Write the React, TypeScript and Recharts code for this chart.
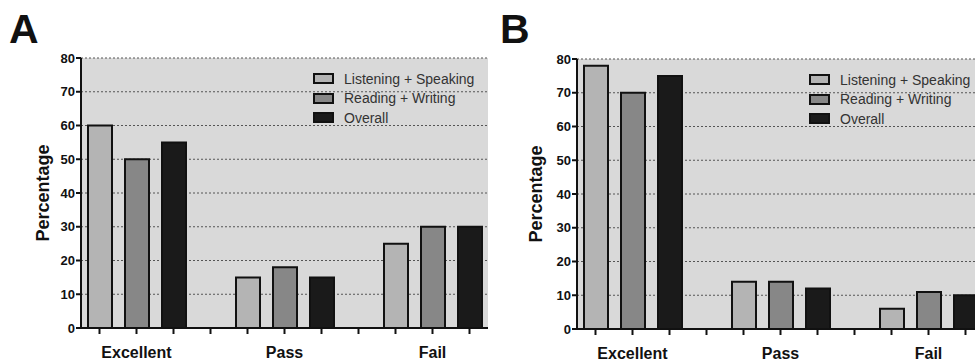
import React from 'react';
import { BarChart, Bar, XAxis, YAxis, CartesianGrid, Legend } from 'recharts';

const categories = ['Excellent', 'Pass', 'Fail'];
const seriesNames = ['Listening + Speaking', 'Reading + Writing', 'Overall'];
const seriesKeys = ['ls', 'rw', 'overall'];
const seriesColors = ['#b4b4b4', '#878787', '#1a1a1a'];

// Panel A
const aListeningSpeaking = [60, 15, 25];
const aReadingWriting = [50, 18, 30];
const aOverall = [55, 15, 30];

// Panel B
const bListeningSpeaking = [78, 14, 6];
const bReadingWriting = [70, 14, 11];
const bOverall = [75, 12, 10];

const yTicks = [0, 10, 20, 30, 40, 50, 60, 70, 80];

// one slot per bar plus an empty slot between groups (GraphPad style)
const buildSlots = (series: number[][]) => {
  const rows: any[] = [];
  categories.forEach((cat, g) => {
    if (g > 0) rows.push({ slot: rows.length, label: '' });
    series.forEach((arr, s) => {
      rows.push({ slot: rows.length, label: s === 1 ? cat : '', [seriesKeys[s]]: arr[g] });
    });
  });
  return rows;
};

const renderLegend = () => (
  <div>
    {seriesNames.map((n, i) => (
      <div key={n} style={{ display: 'flex', alignItems: 'center', height: 19.5 }}>
        <span
          style={{
            display: 'inline-block',
            width: 17,
            height: 7,
            border: '2px solid #111',
            background: seriesColors[i],
            marginRight: 10,
          }}
        />
        <span style={{ fontSize: 14, color: '#333', whiteSpace: 'nowrap' }}>{n}</span>
      </div>
    ))}
  </div>
);

interface PanelProps {
  series: number[][];
  width: number;
  top: number;
  axisWidth: number;
  right: number;
  labelX: number;
  legendLeft: number;
  legendTop: number;
}

const Panel: React.FC<PanelProps> = ({ series, width, top, axisWidth, right, labelX, legendLeft, legendTop }) => {
  const rows = buildSlots(series);
  return (
    <BarChart
      width={width}
      height={361}
      data={rows}
      margin={{ top, right, left: 0, bottom: 0 }}
      barCategoryGap={0}
    >
      <CartesianGrid vertical={false} strokeDasharray="2 2" stroke="#555" fill="#d9d9d9" />
      <XAxis
        dataKey="slot"
        type="category"
        interval={0}
        height={361 - 270 - top}
        tickFormatter={(v: number) => rows[v]?.label ?? ''}
        tick={{ fill: '#111', fontSize: 16, fontWeight: 'bold' }}
        tickSize={6}
        tickMargin={13}
        axisLine={{ stroke: '#111', strokeWidth: 2 }}
        tickLine={{ stroke: '#111', strokeWidth: 2 }}
      />
      <YAxis
        domain={[0, 80]}
        ticks={yTicks}
        width={axisWidth}
        tick={{ fill: '#111', fontSize: 13, fontWeight: 'bold' }}
        tickSize={5}
        tickMargin={1}
        axisLine={{ stroke: '#111', strokeWidth: 2 }}
        tickLine={{ stroke: '#111', strokeWidth: 2 }}
        label={(props: any) => {
          const vb = props.viewBox || { y: top, height: 270 };
          const cy = vb.y + vb.height / 2;
          return (
            <text
              x={labelX}
              y={cy}
              transform={`rotate(-90 ${labelX} ${cy})`}
              textAnchor="middle"
              fontSize={18}
              fontWeight="bold"
              fill="#111"
            >
              Percentage
            </text>
          );
        }}
      />
      <Legend
        layout="vertical"
        align="center"
        verticalAlign="middle"
        content={renderLegend}
        wrapperStyle={{ top: legendTop, left: legendLeft, width: 200 }}
      />
      {seriesKeys.map((k, i) => (
        <Bar
          key={k}
          dataKey={k}
          name={seriesNames[i]}
          stackId="a"
          fill={seriesColors[i]}
          stroke="#111"
          strokeWidth={2}
          barSize={24}
          isAnimationActive={false}
        />
      ))}
    </BarChart>
  );
};

export default function App() {
  return (
    <div
      style={{
        position: 'absolute',
        left: 0,
        top: 0,
        width: 975,
        height: 361,
        overflow: 'hidden',
        background: '#fff',
        fontFamily: '"Liberation Sans", Arial, sans-serif',
      }}
    >
      <div style={{ position: 'absolute', left: 0, top: 0 }}>
        <Panel
          series={[aListeningSpeaking, aReadingWriting, aOverall]}
          width={490}
          top={58}
          axisWidth={81}
          right={2}
          labelX={49}
          legendLeft={313}
          legendTop={69}
        />
      </div>
      <div style={{ position: 'absolute', left: 490, top: 0 }}>
        <Panel
          series={[bListeningSpeaking, bReadingWriting, bOverall]}
          width={495}
          top={59}
          axisWidth={87}
          right={1}
          labelX={52}
          legendLeft={319}
          legendTop={70}
        />
      </div>
      <svg width={975} height={361} style={{ position: 'absolute', left: 0, top: 0, pointerEvents: 'none' }}>
        <text x={9} y={43} fontSize={41} fontWeight="bold" fill="#111">A</text>
        <text x={500} y={43} fontSize={41} fontWeight="bold" fill="#111">B</text>
      </svg>
    </div>
  );
}
